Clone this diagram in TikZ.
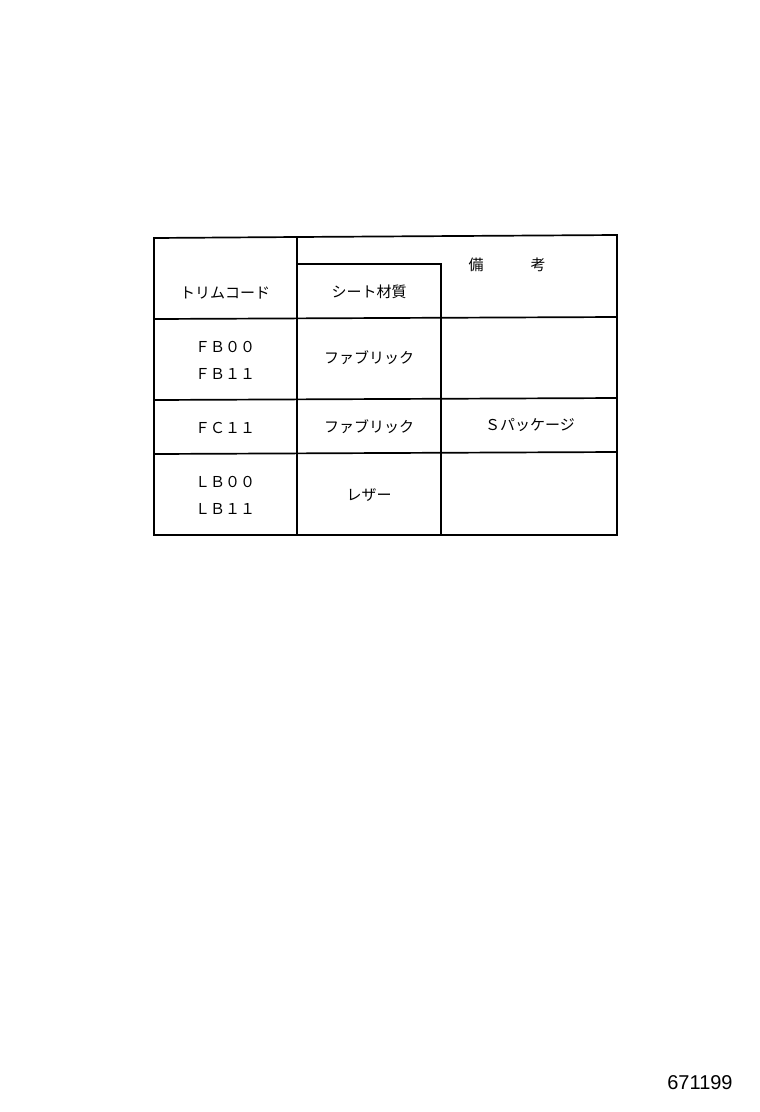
\documentclass[tikz,border=0pt]{standalone}
\usepackage{fontspec}
\setmainfont{Liberation Sans}
\newfontfamily\jp{Noto Sans CJK JP}
\begin{document}
\begin{tikzpicture}[x=1pt,y=-1pt,
  cell/.style={font=\jp\fontsize{15}{17}\selectfont, inner sep=0pt, anchor=center},
  grid/.style={line width=1.7pt, line cap=rect}]
\useasboundingbox (0,0) rectangle (760,1112);
% table lines
\draw[grid] (154,238) -- (297,237) -- (617,235) -- (617,535) -- (154,535) -- cycle;
\draw[grid] (297,237) -- (297,535);
\draw[grid] (297,264) -- (441,264) -- (441,535);
\draw[grid] (154,319) -- (617,317);
\draw[grid] (154,400) -- (617,398);
\draw[grid] (154,454) -- (617,452);
% header
\node[cell] (h1) at (225,293) {トリムコード};
\node[cell] (h2) at (369,292) {シート材質};
\node[cell] (h3a) at (476,265) {備};
\node[cell] (h3b) at (538,265) {考};
% rows
\node[cell] (r1a) at (225,347) {ＦＢ００};
\node[cell] (r1b) at (225,374) {ＦＢ１１};
\node[cell] (r1c) at (369,358) {ファブリック};
\node[cell] (r2a) at (225,428) {ＦＣ１１};
\node[cell] (r2c) at (369,427) {ファブリック};
\node[cell] (r2d) at (530,425) {Ｓパッケージ};
\node[cell] (r3a) at (225,482) {ＬＢ００};
\node[cell] (r3b) at (225,509) {ＬＢ１１};
\node[cell] (r3c) at (369,495) {レザー};
\node[font=\fontsize{20}{22}\selectfont, inner sep=0pt] (code) at (700,1083) {671199};
\end{tikzpicture}
\end{document}
